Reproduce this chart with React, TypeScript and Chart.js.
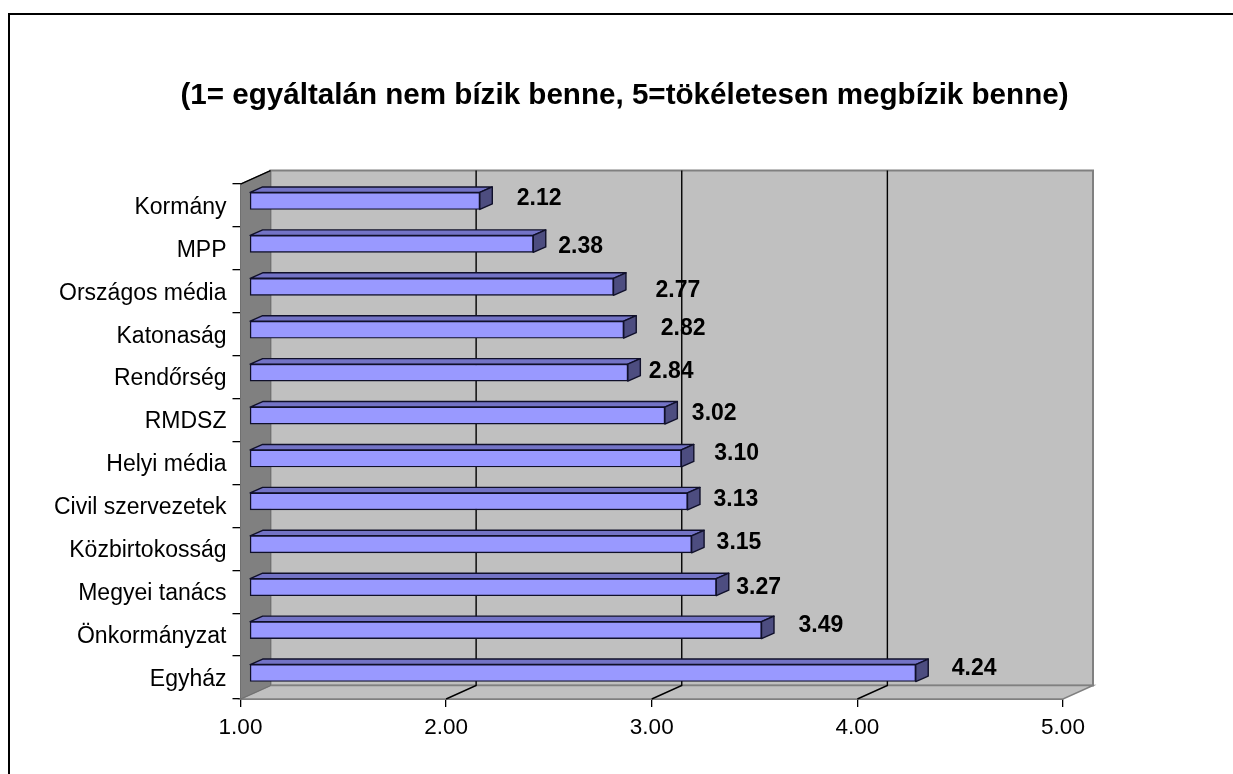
import React, { useEffect, useRef } from "react";
import { Chart, registerables } from "chart.js";

Chart.register(...registerables);

const categories = ["Kormány", "MPP", "Országos média", "Katonaság", "Rendőrség", "RMDSZ", "Helyi média", "Civil szervezetek", "Közbirtokosság", "Megyei tanács", "Önkormányzat", "Egyház"];
const values = [2.12, 2.38, 2.77, 2.82, 2.84, 3.02, 3.1, 3.13, 3.15, 3.27, 3.49, 4.24];
const xTicks = [1, 2, 3, 4, 5];
const titleText = "(1= egyáltalán nem bízik benne, 5=tökéletesen megbízik benne)";

// Hand-placed label nudges in the source chart (pixels from the bar's end / centre)
const labelDx = [37, 25, 42, 37, 21, 27, 33, 26, 25, 20, 37, 36];
const labelDy = [-2, 3, 4, -1, -1, -2, -5, -2, -2, 0, -4, -4];

const SANS = '"Liberation Sans", Arial, sans-serif';
const WALL_DX = 30;
const WALL_DY = -13.5;
const BAR_SHIFT_X = 9;
const BAR_SHIFT_Y = -4.5;
const BAR_DX = 12.5;
const BAR_DY = -5.5;

const poly = (ctx: CanvasRenderingContext2D, pts: number[][], fill: string | null, stroke: string | null, lw = 1) => {
  ctx.beginPath();
  pts.forEach((p, i) => (i ? ctx.lineTo(p[0], p[1]) : ctx.moveTo(p[0], p[1])));
  ctx.closePath();
  if (fill) { ctx.fillStyle = fill; ctx.fill(); }
  if (stroke) { ctx.strokeStyle = stroke; ctx.lineWidth = lw; ctx.stroke(); }
};

const box3d = {
  id: "box3d",
  beforeDraw(chart: any) {
    // the title is centred on the whole frame, not on the plot
    if (chart.titleBlock) {
      chart.titleBlock.left = 16;
      chart.titleBlock.right = 1233;
    }
  },
  beforeDatasetsDraw(chart: any) {
    const { ctx, chartArea: a, scales } = chart;
    const { left: l, right: r, top: t, bottom: b } = a;
    ctx.save();
    // back wall
    poly(ctx, [[l + WALL_DX, t + WALL_DY], [r + WALL_DX, t + WALL_DY], [r + WALL_DX, b + WALL_DY], [l + WALL_DX, b + WALL_DY]], "#c0c0c0", "#808080", 2);
    // floor
    poly(ctx, [[l, b], [l + WALL_DX, b + WALL_DY], [r + WALL_DX, b + WALL_DY], [r, b]], "#c0c0c0", "#808080", 1.5);
    // left wall
    poly(ctx, [[l, t], [l + WALL_DX, t + WALL_DY], [l + WALL_DX, b + WALL_DY], [l, b]], "#808080", "#707070", 1);
    // gridlines on the wall and floor
    ctx.strokeStyle = "#000";
    ctx.lineWidth = 1.4;
    xTicks.slice(1, -1).forEach((v) => {
      const x = scales.x.getPixelForValue(v);
      ctx.beginPath();
      ctx.moveTo(x, b);
      ctx.lineTo(x + WALL_DX, b + WALL_DY);
      ctx.lineTo(x + WALL_DX, t + WALL_DY);
      ctx.stroke();
    });
    // top edge of the left wall
    ctx.beginPath();
    ctx.moveTo(l, t);
    ctx.lineTo(l + WALL_DX, t + WALL_DY);
    ctx.stroke();
    ctx.restore();
    // bar depth faces, under the library's front faces
    const meta = chart.getDatasetMeta(0);
    ctx.save();
    ctx.translate(BAR_SHIFT_X, BAR_SHIFT_Y);
    ctx.lineJoin = "round";
    for (let i = meta.data.length - 1; i >= 0; i--) {
      const el = meta.data[i];
      const h = el.height / 2;
      const x0 = el.base, x1 = el.x, y0 = el.y - h, y1 = el.y + h;
      poly(ctx, [[x0, y0], [x0 + BAR_DX, y0 + BAR_DY], [x1 + BAR_DX, y0 + BAR_DY], [x1, y0]], "#7373c6", "#10102a", 1.4);
      poly(ctx, [[x1, y0], [x1 + BAR_DX, y0 + BAR_DY], [x1 + BAR_DX, y1 + BAR_DY], [x1, y1]], "#4d4d80", "#10102a", 1.4);
    }
    ctx.restore();
  },
  beforeDatasetDraw(chart: any) {
    chart.ctx.save();
    chart.ctx.translate(BAR_SHIFT_X, BAR_SHIFT_Y);
  },
  afterDatasetDraw(chart: any) {
    chart.ctx.restore();
  },
  afterDatasetsDraw(chart: any) {
    const { ctx } = chart;
    const meta = chart.getDatasetMeta(0);
    ctx.save();
    ctx.font = `bold 23px ${SANS}`;
    ctx.fillStyle = "#000";
    ctx.textAlign = "left";
    ctx.textBaseline = "middle";
    meta.data.forEach((el: any, i: number) => {
      ctx.fillText(values[i].toFixed(2), el.x + BAR_SHIFT_X + labelDx[i], el.y + BAR_SHIFT_Y + labelDy[i]);
    });
    ctx.restore();
  },
};

export default function App() {
  const ref = useRef<HTMLCanvasElement>(null);
  useEffect(() => {
    document.body.style.margin = "0";
    document.body.style.background = "#fff";
    const chart = new Chart(ref.current!, {
      type: "bar",
      data: {
        labels: categories,
        datasets: [{
          data: values,
          base: 1,
          backgroundColor: "#9999ff",
          borderColor: "#10102a",
          borderWidth: 1.4,
          borderSkipped: false,
          barThickness: 17,
        }],
      },
      plugins: [box3d],
      options: {
        indexAxis: "y",
        animation: false,
        responsive: false,
        layout: { padding: { left: 8, right: 170, top: 0, bottom: 26 } },
        clip: false,
        plugins: {
          legend: { display: false },
          tooltip: { enabled: false },
          title: {
            display: true,
            text: titleText,
            color: "#000",
            font: { family: SANS, size: 29.6, weight: "bold" },
            padding: { top: 78, bottom: 70.5 },
          },
        },
        scales: {
          x: {
            type: "linear",
            min: 1,
            max: 5,
            afterBuildTicks: (s: any) => { s.ticks = xTicks.map((value) => ({ value })); },
            grid: { drawOnChartArea: false, drawTicks: true, tickLength: 8, color: "#000", lineWidth: 1.3 },
            border: { color: "#000", width: 1.6 },
            ticks: { color: "#000", padding: 7, maxRotation: 0, autoSkip: false, font: { family: SANS, size: 22.5 }, callback: (v: any) => Number(v).toFixed(2) },
          },
          y: {
            type: "category",
            grid: { drawOnChartArea: false, drawTicks: true, tickLength: 8, color: "#000", lineWidth: 1.3 },
            border: { color: "#000", width: 1.6 },
            ticks: { color: "#000", padding: 6, autoSkip: false, labelOffset: 2, font: { family: SANS, size: 23 } },
            afterFit: (s: any) => { s.width = 232.5; },
          },
        },
      } as any,
    });
    return () => chart.destroy();
  }, []);
  return (
    <div style={{ position: "absolute", left: 0, top: 0, width: 1233, height: 774, overflow: "hidden" }}>
      <div style={{ position: "absolute", left: 8, top: 13, width: 1300, height: 900, border: "2px solid #000", boxSizing: "border-box" }} />
      <canvas ref={ref} width={1233} height={774} style={{ position: "absolute", left: 0, top: 0, display: "block" }} />
    </div>
  );
}
